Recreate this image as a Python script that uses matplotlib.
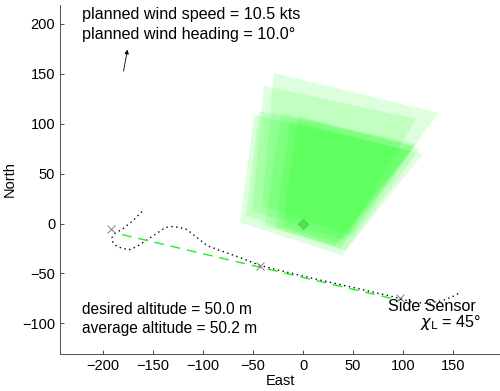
import matplotlib
matplotlib.use("Agg")
import matplotlib.pyplot as plt
from matplotlib.patches import Polygon

plt.rcParams['font.family'] = ['Liberation Sans', 'DejaVu Sans']

# sensor footprints (East, North corners)
footprints = [
    [(-29, 151), (135, 111), (49, -12), (-41, 18)],
    [(-39, 138), (113, 105), (42, -17), (-51, 13)],
    [(-44, 113), (113, 80), (37, -25), (-57, 8)],
    [(-49, 109), (120, 70), (39, -32), (-63, 1)],
    [(-22, 111), (117, 75), (42, -27), (-38, -2)],
    [(-13, 103), (107, 73), (32, -22), (-28, -5)],
    [(-5, 108), (112, 78), (36, -20), (-20, -3)],
]

# flown path
path_e = [-161, -170, -180, -188, -191, -190, -186, -180, -173, -166, -160, -151,
          -145, -138, -131, -123, -116, -106, -96, -83, -63, -43, -23, 10, 50,
          93, 110, 125, 140, 150, 157]
path_n = [12, 3, -5, -10, -14, -19, -23, -25, -26, -23, -19, -13,
          -9, -4, -3, -4, -6, -14, -22, -27, -34, -42, -47, -55, -64,
          -74, -79, -80, -77, -73, -69]

# planned line
plan_e = [-181, 97]
plan_n = [-11, -77]

# waypoints
wp_e = [-192, -43, 97]
wp_n = [-5, -43, -75]

target_e, target_n = [0], [0]

# wind arrow
wind_tail = (-180, 150)
wind_head = (-175, 177)

fig = plt.figure(figsize=(5, 3.91), dpi=100)
ax = fig.add_axes([0.12, 0.0946, 0.88, 0.8926])

for fp in footprints:
    ax.add_patch(Polygon(fp, closed=True, facecolor=(0.0, 1.0, 0.0), alpha=0.13, edgecolor='none'))

ax.plot(target_e, target_n, marker='D', color=(0.2, 0.7, 0.2), alpha=0.4, markersize=5, linestyle='none')
ax.plot(path_e, path_n, linestyle=(0, (1, 2.5)), color='black', linewidth=1.0)
ax.plot(plan_e, plan_n, linestyle=(0, (7, 5)), color='#22ee22', linewidth=1.0)
ax.plot(wp_e, wp_n, marker='x', color='gray', markersize=6, markeredgewidth=0.7, linestyle='none')

ax.annotate('', xy=wind_head, xytext=wind_tail,
            arrowprops=dict(arrowstyle='-|>', color='black', lw=0.6, mutation_scale=6))

ax.text(-221, 209, 'planned wind speed = 10.5 kts', fontsize=11.6, va='center')
ax.text(-221, 189, 'planned wind heading = 10.0°', fontsize=11.6, va='center')
ax.text(-221, -86, 'desired altitude = 50.0 m', fontsize=11.2, va='center')
ax.text(-221, -105, 'average altitude = 50.2 m', fontsize=11.2, va='center')
ax.text(85, -83, 'Side Sensor', fontsize=11.6, va='center')
ax.text(117, -99, r'$\chi_{\rm L}$ = 45°', fontsize=11.6, va='center')

ax.set_xlim(-243, 197)
ax.set_ylim(-130.7, 219)
ax.set_xticks([-200, -150, -100, -50, 0, 50, 100, 150])
ax.set_yticks([-100, -50, 0, 50, 100, 150, 200])
ax.spines['top'].set_visible(False)
ax.spines['right'].set_visible(False)
for s in ['left', 'bottom']:
    ax.spines[s].set_linewidth(0.6)
    ax.spines[s].set_color('#333333')
ax.tick_params(direction='in', length=3, width=0.6, labelsize=10.5, color='#333333')
ax.set_xlabel('East', fontsize=10.5, labelpad=1)
ax.set_ylabel('North', fontsize=10.5, labelpad=4)

fig.savefig('out.png', dpi=100)
